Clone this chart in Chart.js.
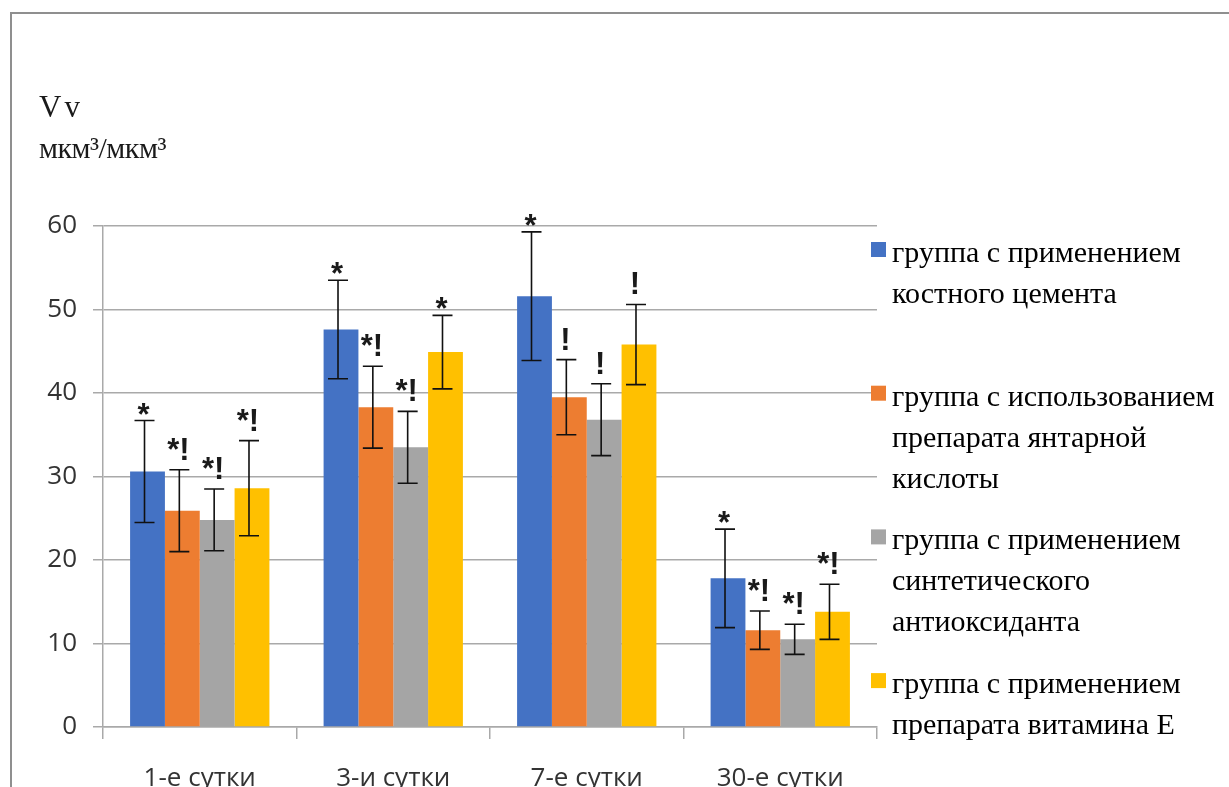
<!DOCTYPE html>
<html lang="ru">
<head>
<meta charset="utf-8">
<title>Vv, мкм³/мкм³</title>
<script src="https://cdn.jsdelivr.net/npm/chart.js@4.4.1/dist/chart.umd.min.js"></script>
<style>
  html, body { margin: 0; padding: 0; background: #fff; }
  #wrap { width: 1229px; height: 787px; position: relative; }
</style>
</head>
<body>
<div id="wrap"><canvas id="chart" width="1229" height="787"></canvas></div>
<script>
// Observation days
const categories = ['1-е сутки', '3-и сутки', '7-е сутки', '30-е сутки'];

// Group names, split into the lines shown in the legend
const cementName    = ['группа с применением', 'костного цемента'];
const succinicName  = ['группа с использованием', 'препарата янтарной', 'кислоты'];
const antioxName    = ['группа с применением', 'синтетического', 'антиоксиданта'];
const vitaminEName  = ['группа с применением', 'препарата витамина Е'];

// Mean Vv values
const cementValues   = [30.6, 47.6, 51.6, 17.8];
const succinicValues = [25.9, 38.3, 39.5, 11.6];
const antioxValues   = [24.8, 33.5, 36.8, 10.5];
const vitaminEValues = [28.6, 44.9, 45.8, 13.8];

// Error (±) for each mean
const cementErr   = [6.1, 5.9, 7.7, 5.9];
const succinicErr = [4.9, 4.9, 4.5, 2.3];
const antioxErr   = [3.7, 4.3, 4.3, 1.8];
const vitaminEErr = [5.7, 4.4, 4.8, 3.3];

// Significance marks above the error bars
const cementMarks   = ['*', '*', '*', '*'];
const succinicMarks = ['*!', '*!', '!', '*!'];
const antioxMarks   = ['*!', '*!', '!', '*!'];
const vitaminEMarks = ['*!', '*', '!', '*!'];

// Y axis
const yMin = 0, yMax = 60, yStep = 10;

const GRID = '#a9a9a9';
const TICK_FONT = { family: '"Open Sans", sans-serif', size: 26 };
const SERIF = '"Liberation Serif", "Times New Roman", serif';

const series = [
  { name: cementName,   data: cementValues,   err: cementErr,   marks: cementMarks,   color: '#4472C4' },
  { name: succinicName, data: succinicValues, err: succinicErr, marks: succinicMarks, color: '#ED7D31' },
  { name: antioxName,   data: antioxValues,   err: antioxErr,   marks: antioxMarks,   color: '#A5A5A5' },
  { name: vitaminEName, data: vitaminEValues, err: vitaminEErr, marks: vitaminEMarks, color: '#FFC000' }
];

// Frame, axis caption and units
const framePlugin = {
  id: 'frame',
  beforeDraw(chart) {
    const c = chart.ctx;
    c.save();
    c.fillStyle = '#fff';
    c.fillRect(0, 0, chart.width, chart.height);
    c.strokeStyle = '#8f8f8f';
    c.lineWidth = 2;
    c.beginPath();
    c.moveTo(11, chart.height + 5);
    c.lineTo(11, 13);
    c.lineTo(chart.width + 5, 13);
    c.stroke();
    c.fillStyle = '#1a1a1a';
    c.textBaseline = 'alphabetic';
    c.font = '31px ' + SERIF;
    c.letterSpacing = '3px';
    c.fillText('Vv', 39, 117);
    c.letterSpacing = '-0.5px';
    c.font = '30px ' + SERIF;
    c.fillText('мкм³/мкм³', 39, 158);
    c.restore();
  }
};

// Error bars and significance marks
const errorPlugin = {
  id: 'errorBars',
  afterDatasetsDraw(chart) {
    const c = chart.ctx;
    const y = chart.scales.y;
    const shift = -3;
    const cap = 10;
    c.save();
    chart.data.datasets.forEach((ds, di) => {
      const s = series[di];
      const meta = chart.getDatasetMeta(di);
      meta.data.forEach((bar, i) => {
        const v = s.data[i], e = s.err[i];
        const x = bar.x + shift;
        const top = y.getPixelForValue(v + e);
        const bot = y.getPixelForValue(v - e);
        c.strokeStyle = '#111';
        c.lineWidth = 1.6;
        c.beginPath();
        c.moveTo(x, top); c.lineTo(x, bot);
        c.moveTo(x - cap, top); c.lineTo(x + cap, top);
        c.moveTo(x - cap, bot); c.lineTo(x + cap, bot);
        c.stroke();

        const mark = s.marks[i];
        c.font = 'bold 31px "Liberation Sans", Arial, sans-serif';
        c.fillStyle = '#1a1a1a';
        c.textAlign = 'center';
        c.textBaseline = 'alphabetic';
        const m = c.measureText(mark);
        const gap = mark.includes('!') ? 10 : 6;
        const by = top - gap - m.actualBoundingBoxDescent;
        c.fillText(mark, x - 1, by);
      });
    });
    c.restore();
  }
};

// Legend on the right, with wrapped group names
const legendPlugin = {
  id: 'sideLegend',
  afterDraw(chart) {
    const c = chart.ctx;
    const firstBaseline = 262, itemStep = 143.7, lineStep = 41;
    c.save();
    c.font = '30px ' + SERIF;
    c.textBaseline = 'alphabetic';
    c.textAlign = 'left';
    series.forEach((s, k) => {
      const base = firstBaseline + k * itemStep;
      c.fillStyle = s.color;
      c.fillRect(871, base - 20, 15, 15);
      c.fillStyle = '#000';
      s.name.forEach((line, j) => c.fillText(line, 892, base + j * lineStep));
    });
    c.restore();
  }
};

new Chart(document.getElementById('chart'), {
  type: 'bar',
  data: {
    labels: categories,
    datasets: series.map(s => ({
      label: s.name.join(' '),
      data: s.data,
      backgroundColor: s.color,
      borderWidth: 0,
      categoryPercentage: 0.72,
      barPercentage: 1.0
    }))
  },
  options: {
    responsive: false,
    animation: false,
    events: [],
    layout: { padding: { left: 0, right: 352, top: 226, bottom: 0 } },
    plugins: {
      legend: { display: false },
      tooltip: { enabled: false },
      title: { display: false }
    },
    scales: {
      x: {
        grid: { offset: true, drawOnChartArea: false, drawTicks: true, tickLength: 12, color: GRID, lineWidth: 1.5 },
        border: { color: GRID, width: 1.5 },
        ticks: { font: TICK_FONT, color: '#333', padding: 24, maxRotation: 0 },
        afterFit(scale) { scale.height = 60; }
      },
      y: {
        min: yMin,
        max: yMax,
        grid: { color: GRID, lineWidth: 1.5, tickLength: 10, drawTicks: true },
        border: { color: GRID, width: 1.5 },
        ticks: { stepSize: yStep, font: TICK_FONT, color: '#333', padding: 16 },
        afterFit(scale) { scale.width = 103; }
      }
    }
  },
  plugins: [framePlugin, errorPlugin, legendPlugin]
});
</script>
</body>
</html>
